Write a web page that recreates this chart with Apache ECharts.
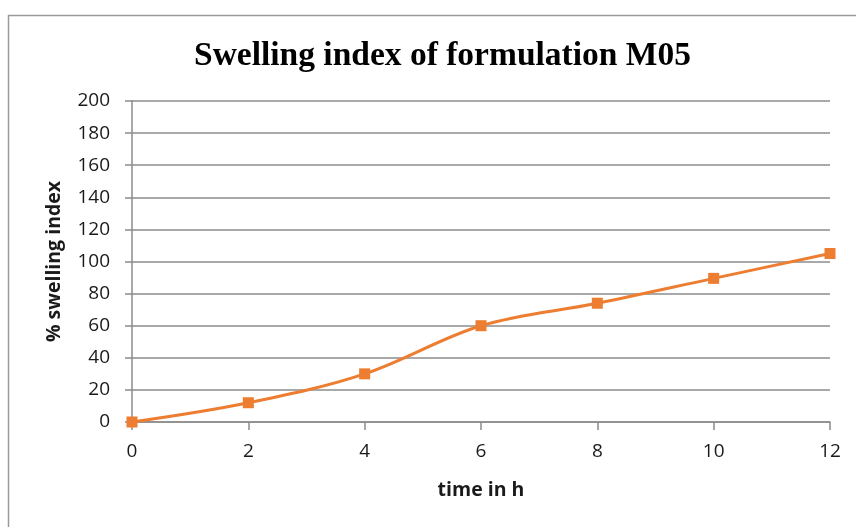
<!DOCTYPE html>
<html>
<head>
<meta charset="utf-8">
<script src="https://cdn.jsdelivr.net/npm/echarts@6/dist/echarts.min.js"></script>
<style>
  html, body { margin: 0; padding: 0; background: #fff; }
  #chart { width: 856px; height: 527px; }
</style>
</head>
<body>
<div id="chart"></div>
<script>
// Swelling index of formulation M05 over time
const titleText = 'Swelling index of formulation M05';
const xAxisName = 'time in h';
const yAxisName = '% swelling index';
const timeHours = [0, 2, 4, 6, 8, 10, 12];
const swellingIndex = [0, 12, 30, 60, 74, 89.5, 105];

const chart = echarts.init(document.getElementById('chart'), null, { renderer: 'canvas' });

const axisGrey = '#8c8c8c';
const labelFont = { fontFamily: 'Open Sans', fontSize: 19, color: '#1a1a1a' };
const nameFont = { fontFamily: 'Open Sans', fontWeight: 'bold', fontSize: 19.5, color: '#1a1a1a' };

chart.setOption({
  animation: false,
  backgroundColor: '#ffffff',
  title: {
    text: titleText,
    left: 189,
    top: 34,
    textStyle: {
      fontFamily: 'Liberation Serif',
      fontWeight: 'bold',
      fontSize: 33.5,
      color: '#000'
    }
  },
  graphic: [{
    type: 'rect',
    shape: { x: 8.5, y: 15.5, width: 900, height: 600 },
    style: { fill: 'none', stroke: '#9a9a9a', lineWidth: 1.5 },
    silent: true
  }],
  grid: { left: 132, right: 26, top: 101, bottom: 105 },
  xAxis: {
    type: 'value',
    min: 0,
    max: 12,
    interval: 2,
    name: xAxisName,
    nameLocation: 'middle',
    nameGap: 58,
    nameTextStyle: nameFont,
    axisLine: { show: true, lineStyle: { color: axisGrey, width: 1.5 } },
    axisTick: { show: true, length: 8, lineStyle: { color: axisGrey, width: 1.5 } },
    axisLabel: Object.assign({ margin: 20 }, labelFont),
    splitLine: { show: false }
  },
  yAxis: {
    type: 'value',
    min: 0,
    max: 200,
    interval: 20,
    name: yAxisName,
    nameLocation: 'middle',
    nameRotate: 90,
    nameGap: 68,
    nameTextStyle: nameFont,
    axisLine: { show: true, lineStyle: { color: axisGrey, width: 1.5 } },
    axisTick: { show: true, length: 7, lineStyle: { color: axisGrey, width: 1.5 } },
    axisLabel: Object.assign({ margin: 22 }, labelFont),
    splitLine: { show: true, lineStyle: { color: axisGrey, width: 1.5 } }
  },
  series: [{
    type: 'line',
    data: timeHours.map((t, i) => [t, swellingIndex[i]]),
    smooth: 0.35,
    symbol: 'rect',
    symbolSize: 11,
    lineStyle: { color: '#ED7D31', width: 3 },
    itemStyle: { color: '#ED7D31' }
  }]
});
</script>
</body>
</html>
